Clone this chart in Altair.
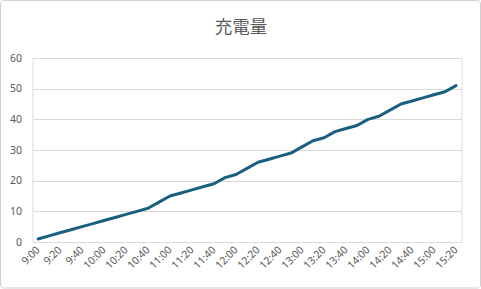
import altair as alt
import pandas as pd

times = ["9:00", "9:10", "9:20", "9:30", "9:40", "9:50", "10:00", "10:10", "10:20", "10:30",
         "10:40", "10:50", "11:00", "11:10", "11:20", "11:30", "11:40", "11:50", "12:00", "12:10",
         "12:20", "12:30", "12:40", "12:50", "13:00", "13:10", "13:20", "13:30", "13:40", "13:50",
         "14:00", "14:10", "14:20", "14:30", "14:40", "14:50", "15:00", "15:10", "15:20"]
charge = [1, 2, 3, 4, 5, 6, 7, 8, 9, 10,
          11, 13, 15, 16, 17, 18, 19, 21, 22, 24,
          26, 27, 28, 29, 31, 33, 34, 36, 37, 38,
          40, 41, 43, 45, 46, 47, 48, 49, 51]
y_ticks = [0, 10, 20, 30, 40, 50, 60]
title_text = "充電量"

df = pd.DataFrame({"time": times, "charge": charge})

FONT = "Noto Sans"
GRAY = "#595959"

line = alt.Chart(df).mark_line(
    color="#1a5e80", strokeWidth=3, strokeCap="round", strokeJoin="round"
).encode(
    x=alt.X("time:O", sort=None, title=None,
            scale=alt.Scale(type="point", padding=0.5),
            axis=alt.Axis(values=times[::2], labelAngle=-45, labelAlign="right",
                          labelBaseline="middle", labelPadding=6, labelFontSize=10.5,
                          labelColor=GRAY, labelFont=FONT, domain=False, ticks=False,
                          grid=False, labelOverlap=False)),
    y=alt.Y("charge:Q", title=None,
            scale=alt.Scale(domain=[0, 60], nice=False),
            axis=alt.Axis(values=y_ticks, domain=False, ticks=False, gridColor="#d9d9d9",
                          gridWidth=1, labelPadding=11, labelFontSize=10.5,
                          labelColor=GRAY, labelFont=FONT)),
)

border = alt.Chart(pd.DataFrame({"a": [0]})).mark_rect(
    fill=None, stroke="#d0d0d0", strokeWidth=1, cornerRadius=3
).encode(
    x=alt.value(-32), x2=alt.value(448), y=alt.value(-57.5), y2=alt.value(230)
)

chart = alt.layer(border, line).properties(
    width=429, height=184,
    padding={"left": 32.5, "top": 58, "right": 19.5, "bottom": 47},
    autosize=alt.AutoSizeParams(type="none"),
    title=alt.TitleParams(title_text, fontSize=17.5, color=GRAY, font="Noto Sans CJK JP",
                          fontWeight="normal", anchor="middle", offset=-36, dx=-6),
).configure_view(stroke=None).configure(background="white")

chart.save("out.html", embed_options={"renderer": "svg", "actions": False})
